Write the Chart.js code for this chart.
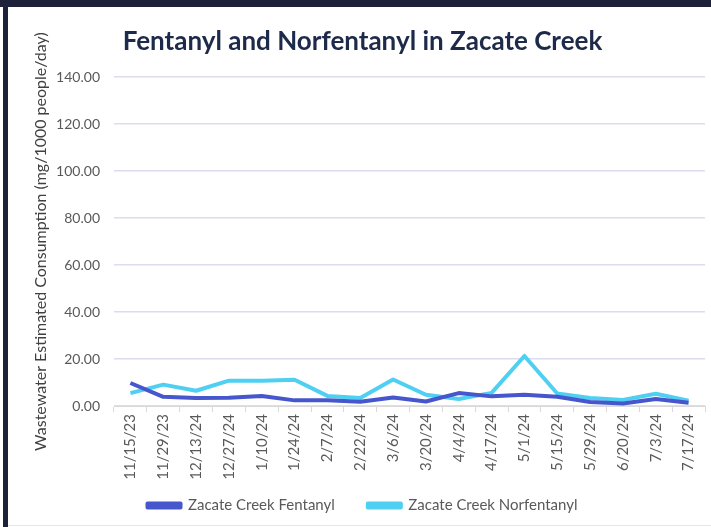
<!DOCTYPE html>
<html>
<head>
<meta charset="utf-8">
<script src="https://cdn.jsdelivr.net/npm/chart.js@4.4.1/dist/chart.umd.min.js"></script>
<style>
	html, body { margin: 0; padding: 0; background: #fff; }
	#wrap { position: relative; width: 711px; height: 527px; overflow: hidden; }
	#frameTop { position: absolute; left: 0; top: 0; width: 711px; height: 7px; background: #1d2139; }
	#frameLeft { position: absolute; left: 3px; top: 0; width: 5px; height: 527px; background: #1d2139; }
	#frameBottom { position: absolute; left: 8px; top: 525px; width: 703px; height: 1px; background: #e6e6e6; }
	canvas { position: absolute; left: 0; top: 0; }
</style>
</head>
<body>
<div id="wrap">
	<canvas id="myChart" width="711" height="527"></canvas>
	<div id="frameTop"></div>
	<div id="frameLeft"></div>
	<div id="frameBottom"></div>
</div>
<script>
	const chartTitle = "Fentanyl and Norfentanyl in Zacate Creek";
	const yAxisTitle = "Wastewater Estimated Consumption (mg/1000 people/day)";
	const dates = ["11/15/23", "11/29/23", "12/13/24", "12/27/24", "1/10/24", "1/24/24", "2/7/24", "2/22/24", "3/6/24",
		"3/20/24", "4/4/24", "4/17/24", "5/1/24", "5/15/24", "5/29/24", "6/20/24", "7/3/24", "7/17/24"];
	const fentanyl = [9.8, 3.9, 3.4, 3.5, 4.3, 2.4, 2.4, 1.8, 3.6, 1.9, 5.5, 4.1, 4.8, 3.9, 1.7, 1.1, 3.0, 1.4];
	const norfentanyl = [5.5, 9.1, 6.5, 10.8, 10.8, 11.2, 4.3, 3.4, 11.3, 4.8, 3.0, 5.6, 21.3, 5.3, 3.4, 2.6, 5.2, 2.3];
	const yMax = 140;
	const yStep = 20;

	const fentColor = "#4656cc";
	const norColor = "#4fd0f2";
	const fontFamily = "Lato, 'Open Sans', sans-serif";

	// legend padding is shared by rows and items, so the gap after the first item is made with spaces
	function legendLabels(chart) {
		let items = Chart.defaults.plugins.legend.labels.generateLabels(chart);
		items[0].text = items[0].text + " ".repeat(6);
		return items;
	}

	new Chart(document.getElementById("myChart").getContext('2d'), {
		"type": "line",
		"data": {
			"labels": dates,
			"datasets": [{
				"label": "Zacate Creek Fentanyl",
				"data": fentanyl,
				"borderColor": fentColor,
				"backgroundColor": fentColor,
				"borderWidth": 4,
				"pointRadius": 0,
				"tension": 0,
				"borderJoinStyle": "round",
				"order": 1
			}, {
				"label": "Zacate Creek Norfentanyl",
				"data": norfentanyl,
				"borderColor": norColor,
				"backgroundColor": norColor,
				"borderWidth": 4,
				"pointRadius": 0,
				"tension": 0,
				"borderJoinStyle": "round",
				"order": 2
			}]
		},
		"options": {
			"responsive": false,
			"animation": false,
			"layout": { "padding": { "top": 26, "left": 20, "right": 6, "bottom": 4 } },
			"plugins": {
				"title": {
					"display": true,
					"text": chartTitle,
					"color": "#1e2a4a",
					"font": { "family": fontFamily, "size": 26, "weight": "bold" },
					"padding": { "top": 0, "bottom": 20 }
				},
				"legend": {
					"position": "bottom",
					"labels": {
						"boxWidth": 33,
						"boxHeight": 4,
						"color": "#595959",
						"padding": 10,
						"font": { "family": fontFamily, "size": 15 },
						"generateLabels": legendLabels
					}
				},
				"tooltip": { "enabled": false }
			},
			"scales": {
				"x": {
					"offset": true,
					"afterFit": function (scale) { scale.height = 82; },
					"grid": {
						"offset": true,
						"drawOnChartArea": false,
						"drawTicks": true,
						"tickLength": 6,
						"color": "#d9d9d9"
					},
					"border": { "color": "#d9d9d9" },
					"ticks": {
						"minRotation": 90,
						"maxRotation": 90,
						"autoSkip": false,
						"padding": 2,
						"color": "#595959",
						"font": { "family": fontFamily, "size": 15 }
					}
				},
				"y": {
					"min": 0,
					"max": yMax,
					"afterFit": function (scale) { scale.width = 94; },
					"grid": { "color": "#dcdcf0", "drawTicks": false, "lineWidth": 1.5 },
					"border": { "display": false },
					"title": {
						"display": true,
						"text": yAxisTitle,
						"color": "#404040",
						"font": { "family": fontFamily, "size": 16 },
						"padding": { "top": 11, "bottom": 0 }
					},
					"ticks": {
						"stepSize": yStep,
						"padding": 14,
						"color": "#595959",
						"font": { "family": fontFamily, "size": 14 },
						"callback": function (v) { return v.toFixed(2); }
					}
				}
			}
		}
	});
</script>
</body>
</html>
